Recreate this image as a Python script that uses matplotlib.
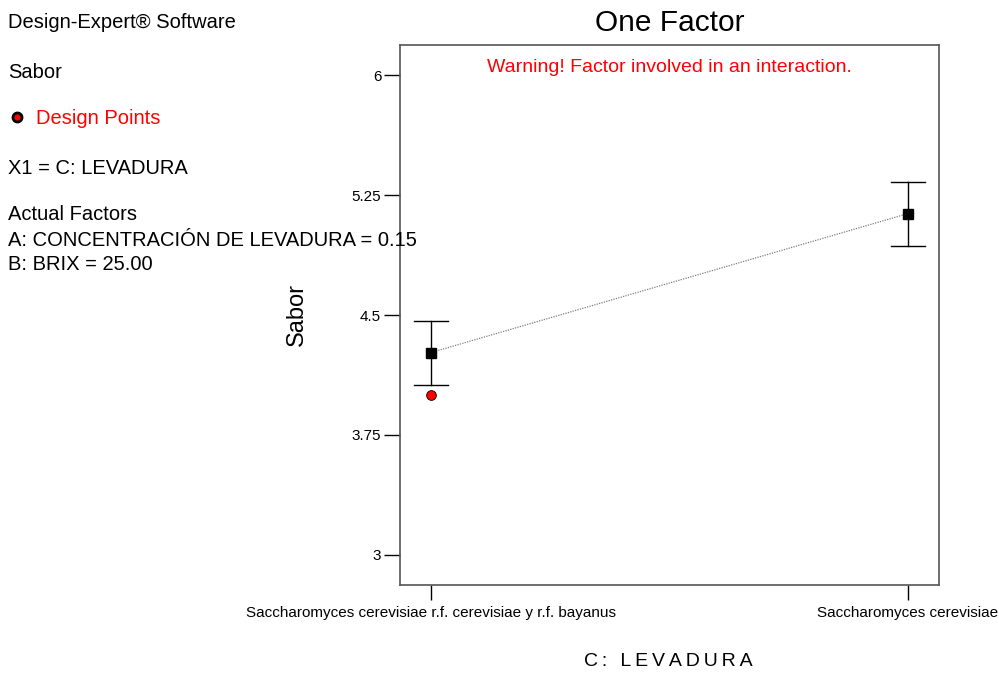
import matplotlib
matplotlib.use("Agg")
import matplotlib.pyplot as plt

W, H = 999, 698

levels = ["Saccharomyces cerevisiae r.f. cerevisiae y r.f. bayanus",
          "Saccharomyces cerevisiae"]
predicted = [4.265, 5.135]
lsd_low = [4.0625, 4.935]
lsd_high = [4.465, 5.335]
design_x = [0]
design_y = [4.0]
yticks = [3, 3.75, 4.5, 5.25, 6]
ytick_labels = ["3", "3.75", "4.5", "5.25", "6"]

plt.rcParams["font.family"] = ["Liberation Sans", "DejaVu Sans"]


def fx(px):
    return px / W


def fy(py):
    return 1 - py / H


fig = plt.figure(figsize=(W / 100, H / 100), dpi=100)
ax = fig.add_axes([fx(400), fy(585), 539 / W, 540 / H])

xs = list(range(len(levels)))
ax.plot(xs, predicted, ls=(0, (1, 1)), color="#808080", lw=0.9, zorder=2)
for x, lo, hi in zip(xs, lsd_low, lsd_high):
    ax.plot([x, x], [lo, hi], color="black", lw=1, zorder=2)
    for v in (lo, hi):
        ax.plot([x - 0.035, x + 0.035], [v, v], color="black", lw=1, zorder=2)
ax.plot(xs, predicted, ls="none", marker="s", ms=7, color="black", zorder=3)
ax.plot(design_x, design_y, ls="none", marker="o", ms=7,
        mfc="red", mec="black", mew=0.6, zorder=3)

ax.set_xlim(-0.065, 1.065)
ax.set_ylim(2.81, 6.19)
ax.set_yticks(yticks)
ax.set_yticklabels(ytick_labels, fontsize=11)
ax.set_xticks(xs)
ax.set_xticklabels(levels, fontsize=11,
                   family=["Liberation Sans Narrow", "Liberation Sans"])
ax.tick_params(axis="y", direction="out", length=11.5, width=1, pad=2)
ax.tick_params(axis="x", direction="out", length=11, width=1, pad=4)
for s in ax.spines.values():
    s.set_color("#555555")
    s.set_linewidth(1.2)

ax.set_title("One Factor", fontsize=21.5, pad=10)
ax.text(0.5, 0.958, "Warning! Factor involved in an interaction.",
        transform=ax.transAxes, color="red", fontsize=14,
        ha="center", va="center")
fig.text(fx(297), fy(314), "Sabor", fontsize=17, rotation=90,
         ha="center", va="center")
fig.text(fx(668), fy(662), "\u2009".join("C: LEVADURA"), fontsize=14,
         ha="center", va="center")

# side panel with model info
side = [
    (22, "Design-Expert® Software"),
    (72, "Sabor"),
    (168, "X1 = C: LEVADURA"),
    (215, "Actual Factors"),
    (240, "A: CONCENTRACIÓN DE LEVADURA = 0.15"),
    (265, "B: BRIX = 25.00"),
]
for py, txt in side:
    fig.text(fx(8), fy(py), txt, fontsize=14.5, color="black", va="center")
fig.text(fx(36), fy(119), "Design Points", fontsize=14.5, color="red",
         va="center")
fig.lines.append(plt.Line2D([fx(17)], [fy(117)], marker="o", ms=6.5,
                            mfc="red", mec="black", mew=2,
                            transform=fig.transFigure))

fig.savefig("out.png", dpi=100)
